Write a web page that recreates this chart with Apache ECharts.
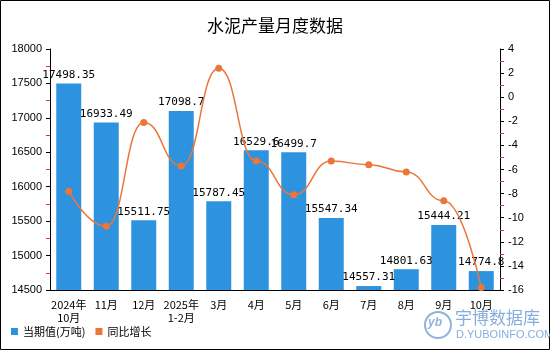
<!DOCTYPE html>
<html>
<head>
<meta charset="utf-8">
<script src="https://cdn.jsdelivr.net/npm/echarts@6/dist/echarts.min.js"></script>
<style>
  html, body { margin: 0; padding: 0; background: #fff; }
  #chart { width: 550px; height: 350px; }
</style>
</head>
<body>
<div id="chart"></div>
<script>
// Monthly cement output (10k tonnes) and year-on-year growth (%)
const categories = ['2024年\n10月', '11月', '12月', '2025年\n1-2月', '3月', '4月', '5月', '6月', '7月', '8月', '9月', '10月'];
const outputValues = [17498.35, 16933.49, 15511.75, 17098.7, 15787.45, 16529.6, 16499.7, 15547.34, 14557.31, 14801.63, 15444.21, 14774.8];
const growthValues = [-7.8, -10.7, -2.1, -5.7, 2.4, -5.3, -8.1, -5.3, -5.6, -6.2, -8.6, -15.8];
const leftTicks = { min: 14500, max: 18000, interval: 500 };
const rightTicks = { min: -16, max: 4, interval: 2 };

const chart = echarts.init(document.getElementById('chart'));
const labelFont = '"DejaVu Sans Mono", monospace';
const cjkFont = '"Noto Sans CJK SC", sans-serif';
const tickFont = 'Arial, "Liberation Sans", sans-serif';

chart.setOption({
  animation: false,
  title: {
    text: '水泥产量月度数据',
    left: 'center',
    top: 12,
    textStyle: { fontSize: 17, fontWeight: 'normal', color: '#000', fontFamily: cjkFont }
  },
  legend: {
    left: 6,
    bottom: 8,
    itemWidth: 7,
    itemHeight: 7,
    itemGap: 10,
    icon: 'rect',
    textStyle: { fontSize: 11, color: '#000', fontFamily: cjkFont },
    data: ['当期值(万吨)', '同比增长']
  },
  grid: { left: 50, right: 50, top: 49, bottom: 60 },
  xAxis: {
    type: 'category',
    data: categories,
    axisLine: { onZero: false, lineStyle: { color: '#000' } },
    axisTick: { show: false },
    axisLabel: { color: '#000', fontSize: 11, interval: 0, lineHeight: 13, fontFamily: cjkFont }
  },
  yAxis: [
    {
      type: 'value',
      min: leftTicks.min, max: leftTicks.max, interval: leftTicks.interval,
      axisLine: { show: true, lineStyle: { color: '#000' } },
      axisTick: { show: true, length: 4, lineStyle: { color: '#000' } },
      minorTick: { show: true, splitNumber: 2, length: 4, lineStyle: { color: '#e03030' } },
      splitLine: { show: false },
      axisLabel: { color: '#000', fontSize: 11, fontFamily: tickFont, formatter: v => String(v) }
    },
    {
      type: 'value',
      min: rightTicks.min, max: rightTicks.max, interval: rightTicks.interval,
      axisLine: { show: true, lineStyle: { color: '#000' } },
      axisTick: { show: true, length: 4, lineStyle: { color: '#000' } },
      minorTick: { show: true, splitNumber: 2, length: 4, lineStyle: { color: '#e03030' } },
      splitLine: { show: false },
      axisLabel: { color: '#000', fontSize: 11, fontFamily: tickFont, formatter: v => String(v) }
    }
  ],
  series: [
    {
      name: '当期值(万吨)',
      type: 'bar',
      data: outputValues,
      barWidth: 25,
      itemStyle: { color: '#2e93de' },
      label: {
        show: true,
        position: 'top',
        distance: 3,
        color: '#000',
        fontSize: 11,
        fontFamily: labelFont
      }
    },
    {
      name: '同比增长',
      type: 'line',
      yAxisIndex: 1,
      data: growthValues,
      smooth: 0.5,
      smoothMonotone: 'x',
      symbol: 'circle',
      symbolSize: 7,
      lineStyle: { color: '#ec7539', width: 1.5 },
      itemStyle: { color: '#ec7539' },
      z: 5
    }
  ],
  graphic: [
    {
      type: 'rect',
      shape: { x: 0.5, y: 0.5, width: 549, height: 349 },
      style: { fill: 'none', stroke: '#000', lineWidth: 1 },
      silent: true
    },
    {
      type: 'circle',
      shape: { cx: 438, cy: 325, r: 13 },
      style: { fill: 'none', stroke: '#8fb3de', lineWidth: 2 },
      silent: true
    },
    {
      type: 'text',
      left: 428, top: 317,
      style: { text: 'yb', fill: '#8fb3de', fontSize: 12, fontStyle: 'italic', fontWeight: 'bold', fontFamily: tickFont },
      silent: true
    },
    {
      type: 'text',
      left: 455, top: 309,
      style: { text: '宇博数据库', fill: '#86addc', fontSize: 17, fontFamily: cjkFont },
      silent: true
    },
    {
      type: 'text',
      left: 456, top: 329,
      style: { text: 'D.YUBOINFO.COM', fill: '#86addc', fontSize: 11, fontFamily: tickFont },
      silent: true
    }
  ]
});
</script>
</body>
</html>
